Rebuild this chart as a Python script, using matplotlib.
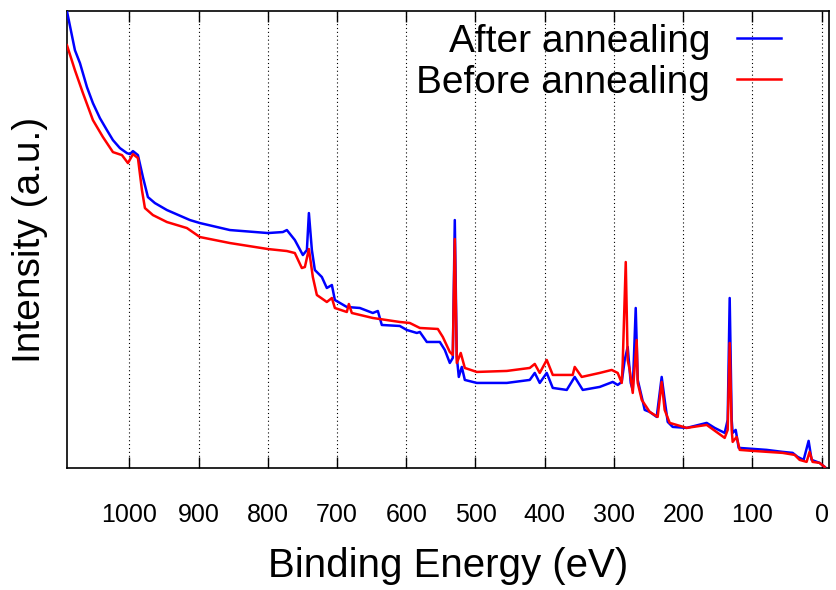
import matplotlib.pyplot as plt
from matplotlib.patches import Rectangle

# binding energy (eV) and intensity (a.u.)
after_be = [1090, 1078.5, 1071.2, 1061.1, 1052.5, 1042.4, 1032.3, 1023.6, 1013.5, 1003.4,
            999.1, 994.7, 987.5, 980.3, 973.1, 963.0, 945.6, 912.4, 898.0, 854.7,
            799.8, 778.2, 772.4, 760.9, 749.3, 743.5, 740.6, 736.3, 732.0, 721.9,
            714.7, 707.4, 703.1, 685.8, 667.0, 648.3, 641.0, 635.3, 609.3, 599.2,
            584.7, 580.4, 570.3, 551.5, 544.3, 537.1, 532.8, 529.9, 527.0, 524.1,
            519.8, 515.4, 498.1, 454.8, 421.6, 414.4, 407.2, 397.1, 388.4, 368.2,
            356.7, 345.1, 320.6, 301.8, 294.6, 288.8, 284.5, 280.2, 275.8, 272.9,
            268.6, 265.7, 259.9, 255.6, 248.4, 238.3, 231.1, 226.8, 222.4, 215.2,
            195.0, 166.1, 154.6, 140.1, 135.8, 132.9, 130.0, 128.6, 124.2, 119.9,
            99.7, 79.5, 56.4, 42.0, 34.8, 26.1, 18.9, 14.6, 3.1, -4.2]
after_int = [457, 418, 405, 381, 365, 350, 338, 328, 320, 315,
             314, 317, 313, 291, 271, 265, 258, 248, 245, 238,
             235, 236, 238, 228, 213, 218, 255, 218, 198, 191,
             180, 183, 168, 161, 160, 155, 157, 143, 142, 138,
             135, 136, 126, 126, 118, 105, 110, 248, 111, 91,
             101, 88, 85, 85, 88, 95, 85, 95, 80, 78,
             91, 78, 81, 86, 83, 86, 108, 121, 85, 78,
             160, 88, 71, 58, 56, 51, 91, 68, 46, 41,
             40, 45, 40, 35, 48, 170, 48, 35, 38, 20,
             19, 18, 16, 15, 11, 8, 27, 8, 5, 1]

before_be = [1090, 1078.5, 1066.9, 1052.5, 1038.0, 1023.6, 1010.6, 1001.9, 994.7, 987.5,
             981.7, 977.4, 965.9, 945.6, 916.8, 898.0, 854.7, 799.8, 772.4, 760.9,
             750.8, 746.4, 740.6, 734.9, 729.1, 714.7, 707.4, 703.1, 685.8, 682.9,
             678.6, 648.3, 609.3, 594.9, 580.4, 554.4, 547.2, 537.1, 532.8, 529.9,
             527.0, 521.3, 515.4, 498.1, 454.8, 421.6, 414.4, 407.2, 397.1, 388.4,
             359.6, 356.7, 346.6, 320.6, 303.3, 294.6, 288.8, 287.4, 283.0, 280.2,
             277.3, 272.9, 267.2, 265.7, 259.9, 248.4, 236.9, 231.1, 226.8, 219.5,
             195.0, 166.1, 140.1, 135.8, 132.9, 130.0, 128.6, 122.8, 118.4, 99.7,
             56.4, 39.1, 31.9, 21.8, 17.5, 13.2, 3.1, -4.2]
before_int = [423, 398, 375, 348, 331, 316, 313, 305, 314, 310,
              278, 260, 253, 246, 240, 231, 225, 219, 217, 215,
              200, 201, 219, 191, 173, 166, 170, 160, 156, 164,
              155, 150, 146, 145, 140, 139, 131, 116, 113, 229,
              105, 115, 100, 96, 97, 100, 104, 95, 108, 93,
              93, 101, 91, 95, 98, 95, 85, 105, 206, 108,
              98, 75, 128, 85, 68, 56, 51, 86, 58, 45,
              40, 43, 30, 38, 125, 38, 26, 31, 18, 17,
              15, 13, 8, 6, 16, 6, 5, 1]

xticks = [1000, 900, 800, 700, 600, 500, 400, 300, 200, 100, 0]

plt.rcParams['font.family'] = ['Liberation Sans', 'DejaVu Sans']

fig = plt.figure(figsize=(8.37, 5.9), dpi=100)
ax = fig.add_axes([0.080, 0.207, 0.910, 0.774])

ax.plot(after_be, after_int, color='#0000ff', linewidth=1.8, label='After annealing', zorder=3)
ax.plot(before_be, before_int, color='#ff0000', linewidth=1.8, label='Before annealing', zorder=4)

ax.set_xlim(1090, -10)
ax.set_ylim(0, 457)
ax.set_xticks(xticks)
ax.set_yticks([])
ax.tick_params(axis='x', direction='in', length=8, width=1, top=True, labelsize=18, pad=25)
ax.grid(axis='x', color='black', linestyle=(0, (1, 2.5)), linewidth=0.8, zorder=0)
for s in ax.spines.values():
    s.set_linewidth(1.2)

# white key box hiding the grid behind the legend (gnuplot style)
ax.add_patch(Rectangle((0.31, 0.81), 0.65, 0.19, transform=ax.transAxes,
                       facecolor='white', edgecolor='none', zorder=1))

ax.legend(loc='upper right', bbox_to_anchor=(0.938, 0.973), frameon=False, fontsize=28,
          markerfirst=False, handlelength=1.13, handletextpad=0.7, labelspacing=0.13,
          borderpad=0, borderaxespad=0)

ax.set_xlabel('Binding Energy (eV)', fontsize=29, labelpad=15)
ax.set_ylabel('Intensity (a.u.)', fontsize=28, labelpad=14)

fig.savefig('out.png', dpi=100)
